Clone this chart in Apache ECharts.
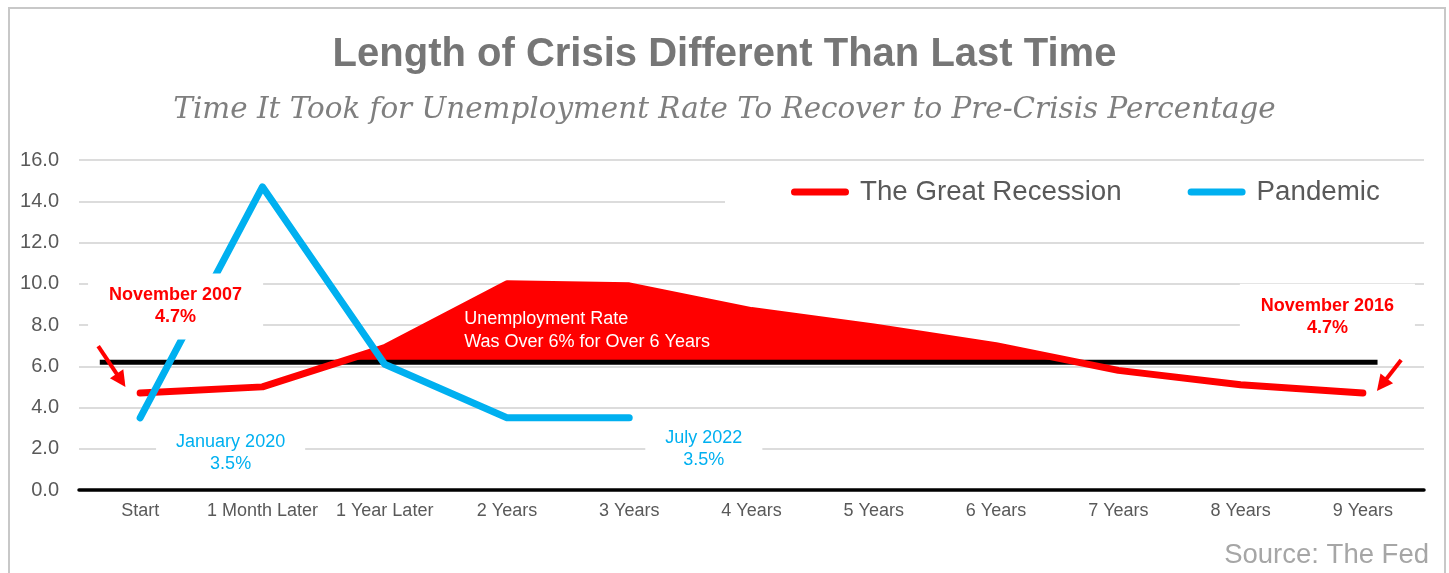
<!DOCTYPE html>
<html><head><meta charset="utf-8">
<script src="https://cdn.jsdelivr.net/npm/echarts@6/dist/echarts.min.js"></script>
<style>html,body{margin:0;padding:0;background:#fff}#c{width:1449px;height:573px}</style>
</head><body><div id="c"></div>
<script>
// ---- data ----
const categories = ['Start','1 Month Later','1 Year Later','2 Years','3 Years','4 Years','5 Years','6 Years','7 Years','8 Years','9 Years'];
const greatRecession = [4.7, 5.0, 6.9, 10.0, 9.9, 8.7, 7.9, 7.0, 5.8, 5.1, 4.7];
const pandemic = [3.5, 14.7, 6.1, 3.5, 3.5];
const yMin = 0, yMax = 16, yStep = 2;
const threshold = 6.2;              // "over 6%" reference line
const seriesNames = ['The Great Recession', 'Pandemic'];
const titleText = 'Length of Crisis Different Than Last Time';
const subtitleText = 'Time It Took for Unemployment Rate To Recover to Pre-Crisis Percentage';
const sourceText = 'Source: The Fed';
const noteText = 'Unemployment Rate\nWas Over 6% for Over 6 Years';
const callouts = [
  {text:'November 2007\n4.7%', color:'#FF0000', bold:true},
  {text:'November 2016\n4.7%', color:'#FF0000', bold:true},
  {text:'January 2020\n3.5%', color:'#00B0F0', bold:false},
  {text:'July 2022\n3.5%', color:'#00B0F0', bold:false}
];

// ---- layout (positions in axis units: [category index, value]) ----
const thresholdSpan = [-0.33, 10.12];
const calloutAt = [[0.29, 8.9], [9.71, 8.4], [0.74, 1.8], [4.61, 2.0]];
const calloutPad = [[11,21],[11,21],[11,20],[11,20]];
const noteAt = [2.65, 7.75];
const arrows = [[[-0.343, 6.98], [-0.12, 4.99]], [[10.313, 6.30], [10.115, 4.80]]];

const RED = '#FF0000', BLUE = '#00B0F0';
const chart = echarts.init(document.getElementById('c'), null, {renderer:'canvas'});

function mapPt(coordFn, i, v) {
  const a = coordFn([0, v]), b = coordFn([1, v]);
  return [a[0] + i * (b[0] - a[0]), a[1]];
}

function renderFill(params, api) {
  const c = (p) => api.coord(p);
  const n = greatRecession.length;
  const pts = greatRecession.map((v, i) => c([i, v]));
  const by = c([0, threshold])[1];
  const polys = [];
  let cur = null;
  for (let i = 0; i < n; i++) {
    const above = greatRecession[i] > threshold;
    if (i > 0) {
      const prevAbove = greatRecession[i-1] > threshold;
      if (above !== prevAbove) {
        const t = (threshold - greatRecession[i-1]) / (greatRecession[i] - greatRecession[i-1]);
        const x = pts[i-1][0] + t * (pts[i][0] - pts[i-1][0]);
        if (above) { cur = [[x, by]]; } else { cur.push([x, by]); polys.push(cur); cur = null; }
      }
    } else if (above) { cur = [[pts[0][0], by]]; }
    if (above) cur.push(pts[i]);
  }
  if (cur) { cur.push([pts[n-1][0], by]); polys.push(cur); }
  const l0 = mapPt(c, thresholdSpan[0], threshold), l1 = mapPt(c, thresholdSpan[1], threshold);
  const children = polys.map(p => ({type:'polygon', shape:{points:p}, style:{fill:RED}}));
  children.push({type:'line', shape:{x1:l0[0], y1:l0[1], x2:l1[0], y2:l1[1]}, style:{stroke:'#000', lineWidth:5}});
  return {type:'group', children};
}

const option = {
  animation: false,
  backgroundColor: '#fff',
  title: [
    {text: titleText, left:'center', top: 30,
     textStyle:{fontFamily:'Liberation Sans, Arial', fontWeight:'bold', fontSize:40, color:'#767676'}},
    {text: subtitleText, left:'center', top: 91,
     textStyle:{fontFamily:'DejaVu Serif', fontStyle:'italic', fontWeight:'normal', fontSize:29.4, color:'#7f7f7f'}},
    {text: sourceText, right: 15, top: 536,
     textStyle:{fontFamily:'Liberation Sans, Arial', fontWeight:'normal', fontSize:27.5, color:'#a6a6a6'}}
  ],
  legend: {
    data: seriesNames,
    left: 725, top: 170,
    icon: 'path://M3.5,0H54.5A3.5,3.5,0,0,1,54.5,7H3.5A3.5,3.5,0,0,1,3.5,0Z',
    itemWidth: 58, itemHeight: 7, itemGap: 66,
    padding: [8, 56, 8, 66],
    backgroundColor: '#fff',
    textStyle: {fontFamily:'Liberation Sans, Arial', fontSize:27.7, color:'#595959', padding:[0,0,0,6]},
    z: 5
  },
  grid: {left: 79, right: 25, top: 160, bottom: 83, containLabel: false},
  xAxis: {
    type:'category', data: categories, boundaryGap: true,
    axisLine:{show:true, lineStyle:{color:'#000', width:3.5}},
    axisTick:{show:false},
    axisLabel:{color:'#595959', fontSize:18, fontFamily:'Liberation Sans, Arial', margin:12, interval:0},
    splitLine:{show:false}
  },
  yAxis: {
    type:'value', min:yMin, max:yMax, interval:yStep,
    axisLine:{show:false}, axisTick:{show:false},
    axisLabel:{color:'#595959', fontSize:20, fontFamily:'Liberation Sans, Arial', margin:20,
               formatter: v => v.toFixed(1)},
    splitLine:{show:true, lineStyle:{color:'#dcdcdc', width:2}}
  },
  series: [
    {name: seriesNames[0], type:'line', data: greatRecession, color: RED, symbol:'none',
     lineStyle:{width:7, color:RED, cap:'round', join:'round'}, z:2},
    {name: seriesNames[1], type:'line', data: pandemic, color: BLUE, symbol:'none',
     lineStyle:{width:7, color:BLUE, cap:'round', join:'round'}, z:2},
    {type:'custom', name:'fill', data:[[0, threshold]], renderItem: renderFill, z:2, silent:true,
     clip:false, legendHoverLink:false}
  ]
};
chart.setOption(option);

// annotations positioned through the chart's own axes
const cv = (p) => chart.convertToPixel({xAxisIndex:0, yAxisIndex:0}, p);
const gEls = [];
callouts.forEach((co, k) => {
  const p = mapPt(cv, calloutAt[k][0], calloutAt[k][1]);
  gEls.push({type:'text', x:p[0], y:p[1], z:100,
    style:{text:co.text, fill:co.color, align:'center', verticalAlign:'middle',
      font:(co.bold ? 'bold ' : '') + '18px "Liberation Sans", Arial', lineHeight:22,
      backgroundColor:'#fff', padding:calloutPad[k]}});
});
const np = mapPt(cv, noteAt[0], noteAt[1]);
gEls.push({type:'text', x:np[0], y:np[1], z:100,
  style:{text:noteText, fill:'#fff', align:'left', verticalAlign:'middle',
    font:'18px "Liberation Sans", Arial', lineHeight:23}});
arrows.forEach(a => {
  const t = mapPt(cv, a[0][0], a[0][1]), h = mapPt(cv, a[1][0], a[1][1]);
  const dx = h[0]-t[0], dy = h[1]-t[1], L = Math.hypot(dx, dy), ux = dx/L, uy = dy/L;
  const hl = 16, hw = 8;
  const bx = h[0]-ux*hl, by = h[1]-uy*hl;
  gEls.push({type:'line', z:100, shape:{x1:t[0], y1:t[1], x2:bx+ux*2, y2:by+uy*2}, style:{stroke:RED, lineWidth:4}});
  gEls.push({type:'polygon', z:100, shape:{points:[[h[0],h[1]],[bx-uy*hw, by+ux*hw],[bx+uy*hw, by-ux*hw]]}, style:{fill:RED}});
});
gEls.push({type:'rect', z:0, shape:{x:9, y:8, width:1436, height:600}, style:{fill:'none', stroke:'#c8c8c8', lineWidth:2}});
chart.setOption({graphic: gEls});
</script></body></html>
